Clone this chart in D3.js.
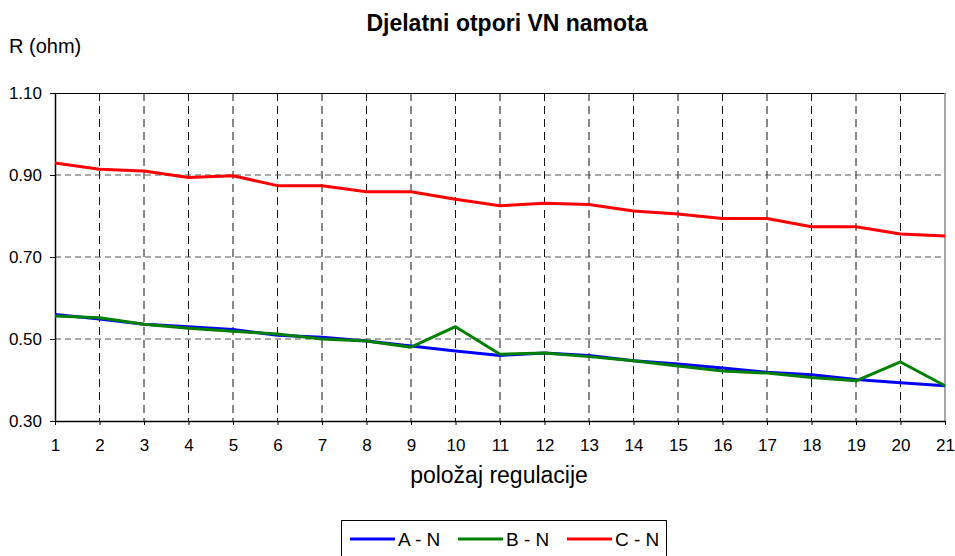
<!DOCTYPE html>
<html><head><meta charset="utf-8">
<script src="https://cdn.jsdelivr.net/npm/d3@7"></script>
<style>body{margin:0;background:#fff;} text{font-family:"Liberation Sans",Arial,sans-serif;}</style>
</head><body>
<svg id="c" width="955" height="556"></svg>
<script>
const positions = [1,2,3,4,5,6,7,8,9,10,11,12,13,14,15,16,17,18,19,20,21];
const seriesNames = ["A - N","B - N","C - N"];
const seriesColors = ["#0000ff","#008000","#ff0000"];
const valuesAN = [0.560,0.549,0.536,0.530,0.523,0.509,0.504,0.495,0.483,0.471,0.460,0.466,0.460,0.447,0.439,0.429,0.419,0.413,0.401,0.393,0.386];
const valuesBN = [0.556,0.552,0.536,0.526,0.519,0.512,0.500,0.495,0.480,0.530,0.463,0.466,0.457,0.447,0.434,0.422,0.417,0.406,0.398,0.444,0.386];
const valuesCN = [0.929,0.914,0.910,0.894,0.898,0.874,0.874,0.859,0.859,0.841,0.825,0.831,0.828,0.812,0.805,0.794,0.794,0.774,0.774,0.756,0.751];
const yTicks = [0.30,0.50,0.70,0.90,1.10];
const series = [valuesAN, valuesBN, valuesCN];

const FF = "Liberation Sans, Arial, sans-serif";
const svg = d3.select("#c");
const m = {l:55, r:945, t:93, b:421};
const x = d3.scaleLinear().domain([1,21]).range([m.l, m.r]);
const y = d3.scaleLinear().domain([0.30,1.10]).range([m.b, m.t]);

// gridlines
svg.append("g").selectAll("line").data(positions.slice(1,-1)).join("line")
  .attr("x1", d=>x(d)).attr("x2", d=>x(d)).attr("y1", m.t).attr("y2", m.b)
  .attr("stroke","#111").attr("stroke-width",1).attr("stroke-dasharray","8,5");
svg.append("g").selectAll("line").data(yTicks.slice(1,-1)).join("line")
  .attr("x1", m.l).attr("x2", m.r).attr("y1", d=>y(d)).attr("y2", d=>y(d))
  .attr("stroke","#555").attr("stroke-width",1).attr("stroke-dasharray","6,4");

// frame top/right
svg.append("line").attr("x1",m.l).attr("x2",m.r).attr("y1",m.t+0.5).attr("y2",m.t+0.5).attr("stroke","#000");
svg.append("line").attr("x1",m.r).attr("x2",m.r).attr("y1",m.t).attr("y2",m.b).attr("stroke","#888").attr("stroke-width",1.5);

// axes
const yAxis = d3.axisLeft(y).tickValues(yTicks).tickFormat(d3.format(".2f")).tickSize(5).tickPadding(8).tickSizeOuter(0);
const gy = svg.append("g").attr("transform",`translate(${m.l},0)`).call(yAxis);
gy.select(".domain").attr("stroke","#000").attr("stroke-width",1.5);
gy.selectAll("text").attr("font-size",17).attr("fill","#000").style("font-family",FF);

const xAxis = d3.axisBottom(x).tickValues(positions).tickFormat(d3.format("d")).tickSize(4).tickPadding(14).tickSizeOuter(0);
const gx = svg.append("g").attr("transform",`translate(0,${m.b})`).call(xAxis);
gx.select(".domain").attr("stroke","#000").attr("stroke-width",1.5);
gx.selectAll("text").attr("font-size",17).attr("fill","#000").style("font-family",FF);

// lines
const line = d3.line().x((d,i)=>x(positions[i])).y(d=>y(d));
series.forEach((s,k)=>{
  svg.append("path").datum(s).attr("d",line).attr("fill","none")
    .attr("stroke",seriesColors[k]).attr("stroke-width",3).attr("stroke-linejoin","round");
});

// titles
svg.append("text").attr("x",507).attr("y",31).attr("text-anchor","middle")
  .attr("font-size",23).attr("font-weight","bold").text("Djelatni otpori VN namota");
svg.append("text").attr("x",9).attr("y",53).attr("font-size",20).text("R (ohm)");
svg.append("text").attr("x",499).attr("y",483).attr("text-anchor","middle")
  .attr("font-size",23).text("položaj regulacije");

// legend
const lg = svg.append("g");
lg.append("rect").attr("x",341.5).attr("y",520.5).attr("width",325).attr("height",40)
  .attr("fill","#fff").attr("stroke","#000").attr("stroke-width",1);
const lx = [350,458,567];
seriesNames.forEach((n,k)=>{
  lg.append("line").attr("x1",lx[k]).attr("x2",lx[k]+45).attr("y1",539).attr("y2",539)
    .attr("stroke",seriesColors[k]).attr("stroke-width",3);
  lg.append("text").attr("x",lx[k]+48).attr("y",546).attr("font-size",19).text(n);
});
</script>
</body></html>
